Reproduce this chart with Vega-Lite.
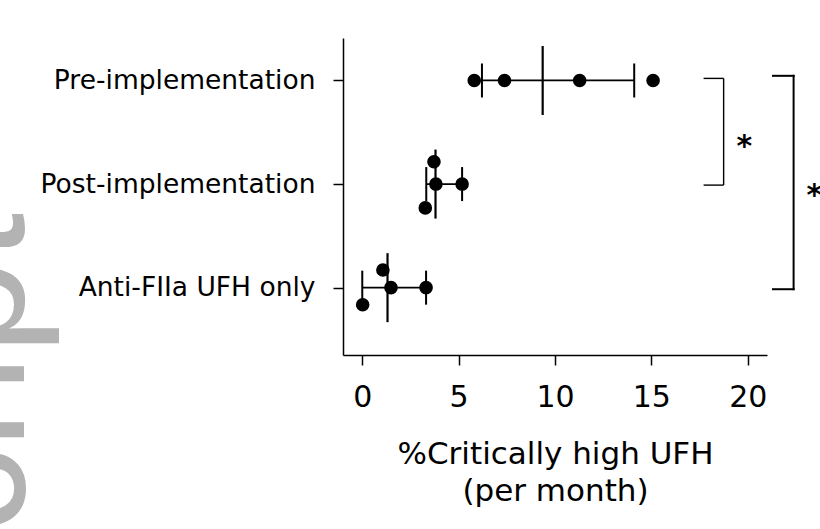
{
  "$schema": "https://vega.github.io/schema/vega-lite/v6.json",
  "width": 424,
  "height": 317,
  "autosize": {"type": "none"},
  "padding": {"left": 343, "top": 38, "right": 53, "bottom": 174},
  "background": "white",
  "config": {
    "view": {"stroke": null},
    "font": "DejaVu Sans",
    "axis": {
      "domainColor": "black",
      "domainWidth": 1.5,
      "tickColor": "black",
      "tickWidth": 1.5,
      "tickSize": 10,
      "labelColor": "black",
      "titleColor": "black",
      "titleFontWeight": "normal",
      "grid": false,
      "labelFont": "DejaVu Sans",
      "titleFont": "DejaVu Sans",
      "labelLimit": 500
    },
    "axisX": {"labelFontSize": 30, "labelPadding": 17, "titleFontSize": 31, "titleLineHeight": 37, "titlePadding": 27},
    "axisY": {"labelFontSize": 26.5, "labelPadding": 18}
  },
  "datasets": {
    "points": [
      {"group": "Pre-implementation", "value": 5.81, "yj": 3.0},
      {"group": "Pre-implementation", "value": 7.38, "yj": 3.0},
      {"group": "Pre-implementation", "value": 11.28, "yj": 3.0},
      {"group": "Pre-implementation", "value": 15.09, "yj": 3.0},
      {"group": "Post-implementation", "value": 3.72, "yj": 2.215},
      {"group": "Post-implementation", "value": 3.82, "yj": 2.0},
      {"group": "Post-implementation", "value": 5.18, "yj": 2.0},
      {"group": "Post-implementation", "value": 3.27, "yj": 1.77},
      {"group": "Anti-FIIa UFH only", "value": 1.07, "yj": 1.17},
      {"group": "Anti-FIIa UFH only", "value": 1.49, "yj": 1.0},
      {"group": "Anti-FIIa UFH only", "value": 3.31, "yj": 1.0},
      {"group": "Anti-FIIa UFH only", "value": 0.02, "yj": 0.835}
    ],
    "summary": [
      {"group": "Pre-implementation", "y": 3, "median": 9.36, "lo": 6.21, "hi": 14.11},
      {"group": "Post-implementation", "y": 2, "median": 3.8, "lo": 3.32, "hi": 5.18},
      {"group": "Anti-FIIa UFH only", "y": 1, "median": 1.31, "lo": 0.0, "hi": 3.31}
    ],
    "brackets": [
      {"b": "small", "x": 17.71, "x2": 18.75, "y": 3.02, "y2": 3.02},
      {"b": "small", "x": 18.75, "x2": 18.75, "y": 3.02, "y2": 1.99},
      {"b": "small", "x": 17.71, "x2": 18.75, "y": 1.99, "y2": 1.99},
      {"b": "large", "x": 21.31, "x2": 22.38, "y": 3.045, "y2": 3.045},
      {"b": "large", "x": 22.38, "x2": 22.38, "y": 3.045, "y2": 0.985},
      {"b": "large", "x": 21.31, "x2": 22.38, "y": 0.985, "y2": 0.985}
    ],
    "stars": [
      {"x": 19.82, "y": 2.27, "label": "*"},
      {"x": 23.46, "y": 1.8, "label": "*"}
    ],
    "watermark": [
      {"x": -17.54, "y": 1.722, "label": "Author Manuscript"}
    ]
  },
  "layer": [
    {
      "data": {"name": "watermark"},
      "mark": {"type": "text", "angle": 270, "align": "right", "baseline": "alphabetic", "font": "Liberation Sans", "fontSize": 170, "color": "#b3b3b3"},
      "encoding": {
        "x": {"field": "x", "type": "quantitative", "scale": {"domain": [-1, 21], "nice": false, "zero": false},
              "axis": {"values": [0, 5, 10, 15, 20], "title": ["%Critically high UFH", "(per month)"]}},
        "y": {"field": "y", "type": "quantitative", "scale": {"domain": [0.35, 3.41], "nice": false, "zero": false},
              "axis": {"values": [1, 2, 3], "title": null,
                       "labelExpr": "datum.value == 3 ? 'Pre-implementation' : datum.value == 2 ? 'Post-implementation' : 'Anti-FIIa UFH only'"}},
        "text": {"field": "label"}
      }
    },
    {
      "data": {"name": "summary"},
      "mark": {"type": "rule", "color": "black", "strokeWidth": 1.8},
      "encoding": {
        "x": {"field": "lo", "type": "quantitative"},
        "x2": {"field": "hi"},
        "y": {"field": "y", "type": "quantitative"}
      }
    },
    {
      "data": {"name": "summary"},
      "mark": {"type": "tick", "orient": "vertical", "color": "black", "opacity": 1, "size": 34, "thickness": 2},
      "encoding": {
        "x": {"field": "lo", "type": "quantitative"},
        "y": {"field": "y", "type": "quantitative"}
      }
    },
    {
      "data": {"name": "summary"},
      "mark": {"type": "tick", "orient": "vertical", "color": "black", "opacity": 1, "size": 34, "thickness": 2},
      "encoding": {
        "x": {"field": "hi", "type": "quantitative"},
        "y": {"field": "y", "type": "quantitative"}
      }
    },
    {
      "data": {"name": "summary"},
      "mark": {"type": "tick", "orient": "vertical", "color": "black", "opacity": 1, "size": 69, "thickness": 2.2},
      "encoding": {
        "x": {"field": "median", "type": "quantitative"},
        "y": {"field": "y", "type": "quantitative"}
      }
    },
    {
      "data": {"name": "points"},
      "mark": {"type": "point", "shape": "circle", "filled": true, "color": "black", "size": 185, "opacity": 1},
      "encoding": {
        "x": {"field": "value", "type": "quantitative"},
        "y": {"field": "yj", "type": "quantitative"}
      }
    },
    {
      "data": {"name": "brackets"},
      "transform": [{"filter": "datum.b == 'small'"}],
      "mark": {"type": "rule", "color": "black", "strokeWidth": 1.4},
      "encoding": {
        "x": {"field": "x", "type": "quantitative"},
        "x2": {"field": "x2"},
        "y": {"field": "y", "type": "quantitative"},
        "y2": {"field": "y2"}
      }
    },
    {
      "data": {"name": "brackets"},
      "transform": [{"filter": "datum.b == 'large'"}],
      "mark": {"type": "rule", "color": "black", "strokeWidth": 2, "strokeCap": "square"},
      "encoding": {
        "x": {"field": "x", "type": "quantitative"},
        "x2": {"field": "x2"},
        "y": {"field": "y", "type": "quantitative"},
        "y2": {"field": "y2"}
      }
    },
    {
      "data": {"name": "stars"},
      "mark": {"type": "text", "align": "center", "baseline": "alphabetic", "fontSize": 30, "fontWeight": "bold", "color": "black", "font": "DejaVu Sans"},
      "encoding": {
        "x": {"field": "x", "type": "quantitative"},
        "y": {"field": "y", "type": "quantitative"},
        "text": {"field": "label"}
      }
    }
  ]
}
